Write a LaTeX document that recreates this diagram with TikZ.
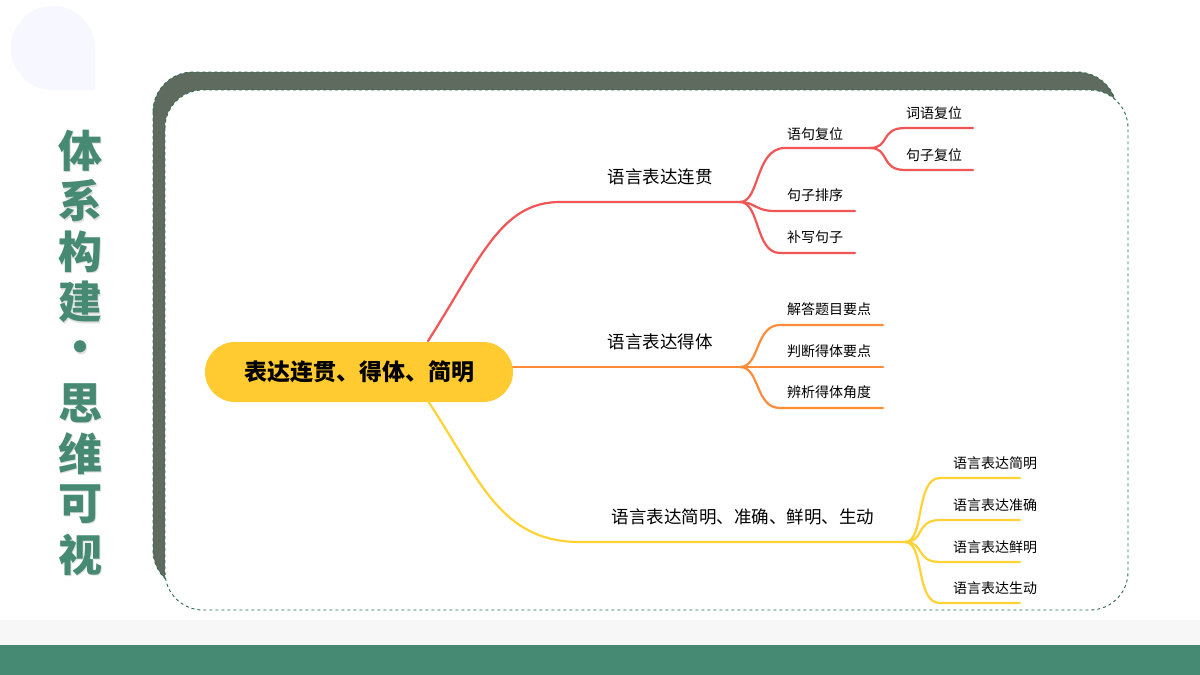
\documentclass[tikz,border=0pt]{standalone}
\usepackage{fontspec}
\setmainfont{Noto Sans CJK SC}
\begin{document}
\begin{tikzpicture}[x=1pt,y=-1pt,
  lab/.style={font=\fontsize{17.5}{19}\selectfont,anchor=base},
  slab/.style={font=\fontsize{14}{16}\selectfont,anchor=base},
  br/.style={line width=2.2pt,line cap=round},
  conn/.style={br}]
\definecolor{cred}{HTML}{F25555}
\definecolor{corg}{HTML}{FF8C3A}
\definecolor{cyel}{HTML}{FFD335}
\definecolor{cgrn}{HTML}{468A74}
\definecolor{cdash}{HTML}{2E6B4F}
\definecolor{cdark}{HTML}{5F6B5F}
\useasboundingbox (0,0) rectangle (1200,675);
\fill[white] (0,0) rectangle (1200,675);
% teardrop
\fill[blue!3!white] (95,90) -- (95,48) arc (0:-270:42) -- (52,90) -- cycle;
% frame
\fill[cdark,rounded corners=40] (153,72) rectangle (1117,590);
\draw[cdash,dashed,line width=0.9pt,rounded corners=40] (153,72) rectangle (1117,590);
\fill[white,rounded corners=38] (165,90) rectangle (1128,610);
\draw[cdash,dashed,line width=0.9pt,rounded corners=38] (165,90) rectangle (1128,610);
% bottom
\fill[gray!6] (0,620) rectangle (1200,645);
\fill[cgrn] (0,645) rectangle (1200,675);
% title
\foreach \c [count=\i] in {体,系,构,建,·,思,维,可,视}{
  \node[text=black!12,font=\fontsize{44}{44}\selectfont\bfseries] at (81.5,101.5+50.5*\i) {\c};
  \node[text=cgrn,font=\fontsize{44}{44}\selectfont\bfseries] (t\i) at (80,100+50.5*\i) {\c};
}
% root
\node[fill=cyel!90!orange,rounded corners=30,minimum width=308,minimum height=60,font=\fontsize{23}{25}\selectfont\bfseries] (root) at (359,372) {表达连贯、得体、简明};
% coordinates
\coordinate (r1) at (428,341); \coordinate (a1) at (740,202);
\coordinate (r2) at (513,367); \coordinate (a2) at (740,367);
\coordinate (r3) at (428,401); \coordinate (a3) at (905,542);
% red
\draw[conn,cred] (r1) .. controls (480,260) and (500,202) .. (560,202) -- (a1);
\node[lab] (l1) at (660,183) {语言表达连贯};
\coordinate (b1) at (870,148);
\draw[conn,cred] (a1) .. controls (760,202) and (755,148) .. (785,148) -- (b1);
\draw[conn,cred] (a1) .. controls (755,202) and (755,211) .. (775,211) -- (855,211);
\draw[conn,cred] (a1) .. controls (760,202) and (755,253) .. (780,253) -- (855,253);
\node[slab] at (815,139) {语句复位};
\node[slab] at (815,200) {句子排序};
\node[slab] at (815,242) {补写句子};
\draw[conn,cred] (b1) .. controls (890,148) and (880,128) .. (905,128) -- (973,128);
\draw[conn,cred] (b1) .. controls (890,148) and (880,170) .. (905,170) -- (973,170);
\node[slab] at (934,118) {词语复位};
\node[slab] at (934,160) {句子复位};
% orange
\draw[conn,corg] (r2) -- (a2);
\node[lab] at (660,348) {语言表达得体};
\draw[conn,corg] (a2) .. controls (760,367) and (755,325) .. (780,325) -- (883,325);
\draw[conn,corg] (a2) -- (883,367);
\draw[conn,corg] (a2) .. controls (760,367) and (755,408) .. (780,408) -- (883,408);
\node[slab] at (829,314) {解答题目要点};
\node[slab] at (829,356) {判断得体要点};
\node[slab] at (829,397) {辨析得体角度};
% yellow
\draw[conn,cyel] (r3) .. controls (480,480) and (500,542) .. (580,542) -- (a3);
\node[lab] at (743,523) {语言表达简明、准确、鲜明、生动};
\foreach \y/\t in {478/语言表达简明,520/语言表达准确,562/语言表达鲜明,603/语言表达生动}{
  \draw[conn,cyel] (a3) .. controls (925,542) and (915,\y) .. (940,\y) -- (1020,\y);
  \node[slab] at (995,\y-10) {\t};
}
\end{tikzpicture}
\end{document}
